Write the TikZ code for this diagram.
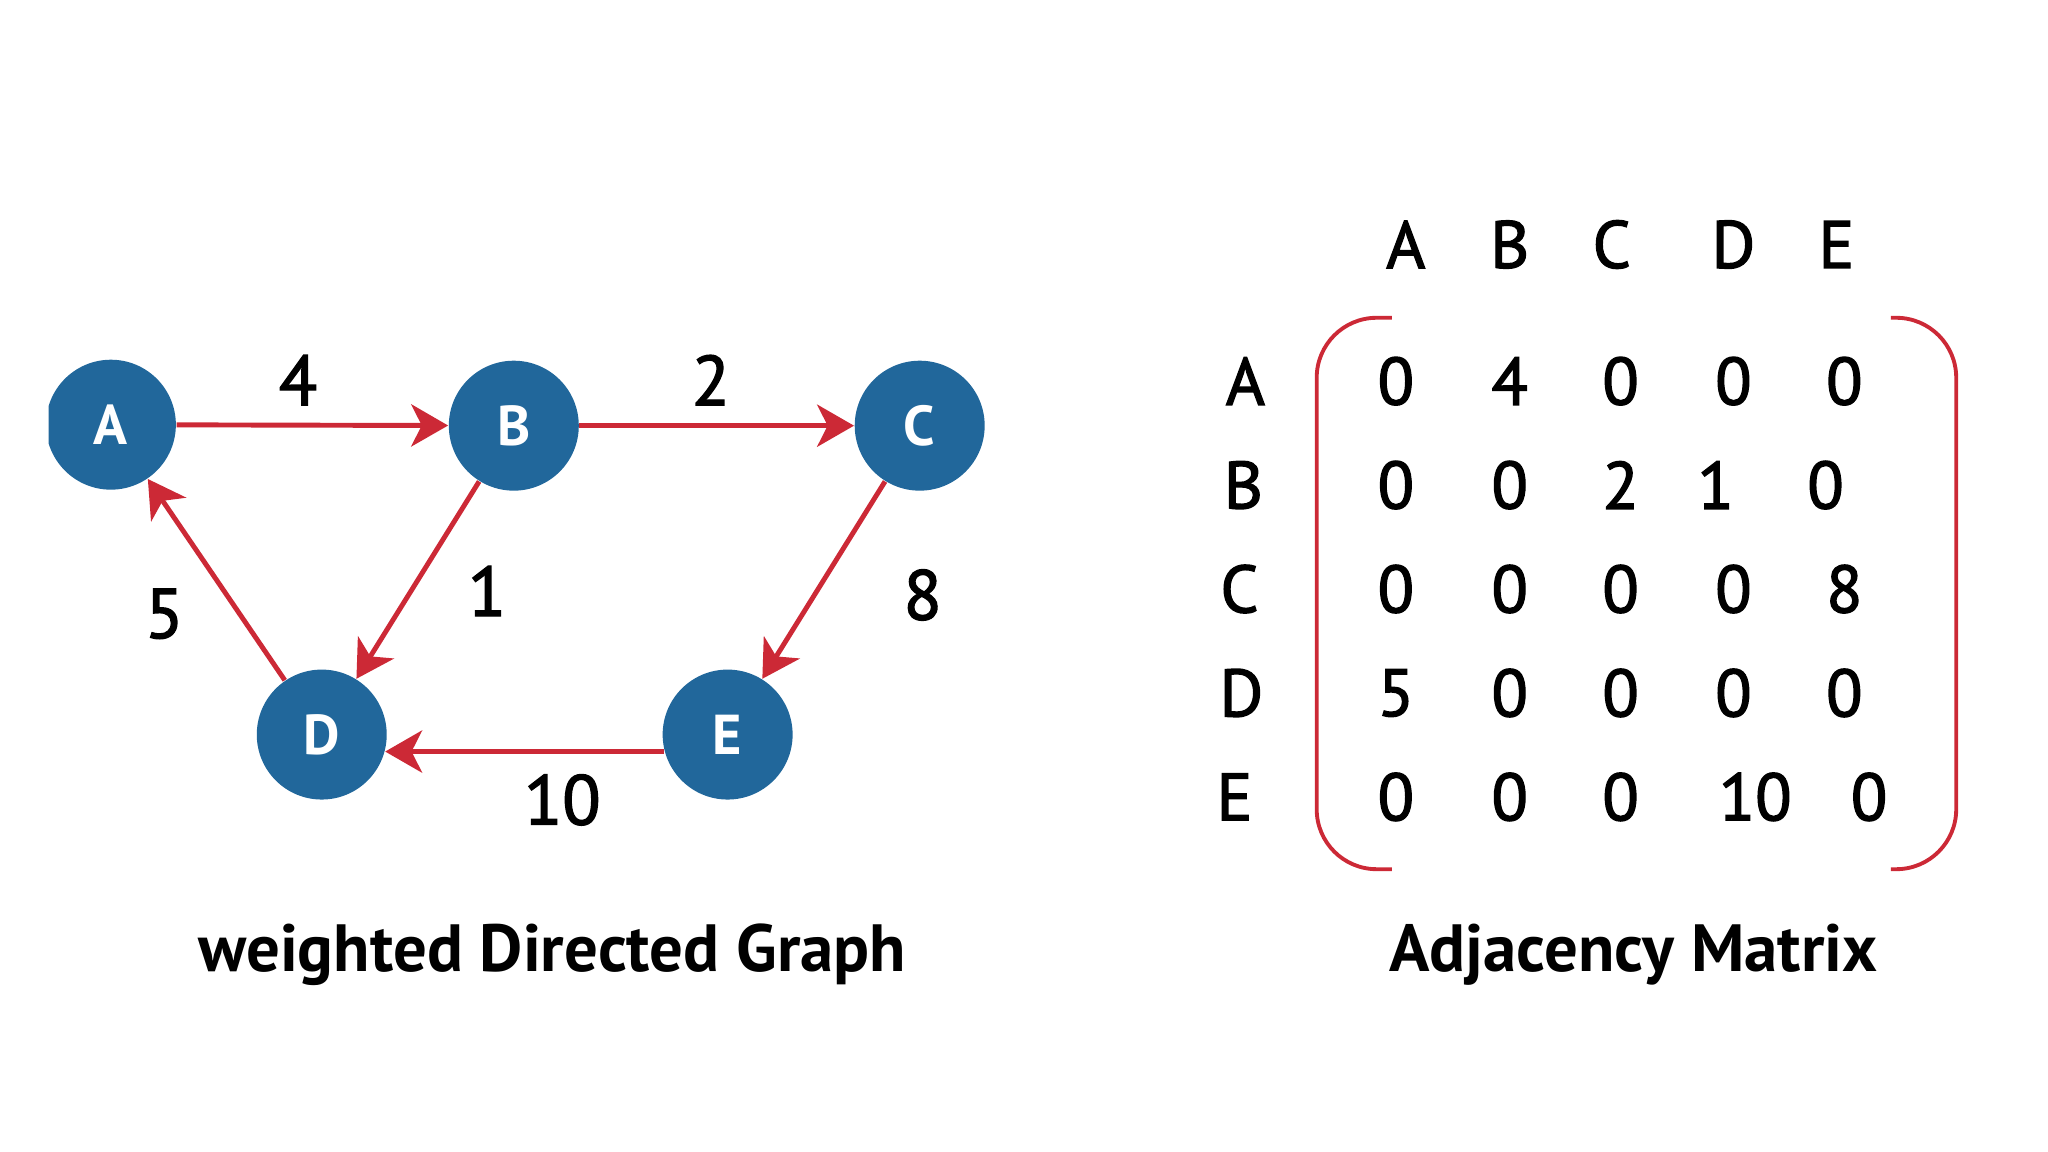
\documentclass[tikz,border=0pt]{standalone}
\usepackage{fontspec}
\setmainfont{PT Sans}
\newfontfamily\midfont[FakeBold=2]{PT Sans}
\usetikzlibrary{arrows.meta}
\definecolor{nodeblue}{RGB}{33,103,155}
\definecolor{edgered}{RGB}{204,41,54}

\begin{document}
\begin{tikzpicture}[x=0.0099cm,y=-0.0099cm,
    % styles
    vertex/.style={circle,fill=nodeblue,text=white,minimum size=1.3cm,inner sep=0pt,
      font=\fontsize{16}{18}\selectfont\bfseries},
    edge/.style={edgered,line width=1.4pt,-{Stealth[length=10.5pt,width=12pt,inset=3pt]}},
    weight/.style={font=\fontsize{20}{22}\selectfont\midfont},
    head/.style={font=\fontsize{19}{21}\selectfont\midfont},
    entry/.style={font=\fontsize{19}{21}\selectfont\midfont},
    bracket/.style={edgered,line width=1.1pt,rounded corners=0.6cm},
    caption/.style={font=\fontsize{19}{21}\selectfont\bfseries}]

  \useasboundingbox (0,0) rectangle (2068.7,1163.6);

  % vertices (A is cut at the left)
  \begin{scope}
    \clip (49,0) rectangle (2068.7,1163.6);
    \node[vertex] (A) at (112,429) {A};
  \end{scope}
  \node[vertex] (B) at (519,430) {B};
  \node[vertex] (C) at (929,430) {C};
  \node[vertex] (D) at (325,742) {D};
  \node[vertex] (E) at (735,742) {E};

  % edges
  \draw[edge] (A) -- (B);
  \draw[edge] (B) -- (C);
  \draw[edge] (B) -- (D);
  \draw[edge] (C) -- (E);
  \draw[edge] (D) -- (A);
  \draw[edge] (E.195) -- (D.-15);

  % weights
  \node[weight] (wAB) at (301,384) {4};
  \node[weight] (wBC) at (718,384) {2};
  \node[weight] (wBD) at (492,597) {1};
  \node[weight] (wDA) at (166,620) {5};
  \node[weight] (wCE) at (932,601) {8};
  \node[weight] (wED) at (568,808) {10};

  % column heads
  \node[head] (cA) at (1420,247) {A};
  \node[head] (cB) at (1525,247) {B};
  \node[head] (cC) at (1628,247) {C};
  \node[head] (cD) at (1751,247) {D};
  \node[head] (cE) at (1855,247) {E};

  % row heads
  \node[head] (rA) at (1258,385) {A};
  \node[head] (rB) at (1256,490) {B};
  \node[head] (rC) at (1252,595) {C};
  \node[head] (rD) at (1254,700) {D};
  \node[head] (rE) at (1247,805) {E};

  % entries
  \foreach \v/\x [count=\i] in {0/1410,4/1525,0/1637,0/1751,0/1863}
    \node[entry] (a\i) at (\x,385) {\v};
  \foreach \v/\x [count=\i] in {0/1410,0/1525,2/1637,1/1733,0/1844}
    \node[entry] (b\i) at (\x,490) {\v};
  \foreach \v/\x [count=\i] in {0/1410,0/1525,0/1637,0/1751,8/1863}
    \node[entry] (c\i) at (\x,595) {\v};
  \foreach \v/\x [count=\i] in {5/1410,0/1525,0/1637,0/1751,0/1863}
    \node[entry] (d\i) at (\x,700) {\v};
  \foreach \v/\x [count=\i] in {0/1410,0/1525,0/1637,10/1773,0/1888}
    \node[entry] (e\i) at (\x,805) {\v};

  % brackets
  \draw[bracket] (1406,321) -- (1330,321) -- (1330,878) -- (1406,878);
  \draw[bracket] (1910,321) -- (1976,321) -- (1976,878) -- (1910,878);

  % captions
  \node[caption] (gcap) at (558,964) {weighted Directed Graph};
  \node[caption] (mcap) at (1650,964) {Adjacency Matrix};
\end{tikzpicture}
\end{document}
